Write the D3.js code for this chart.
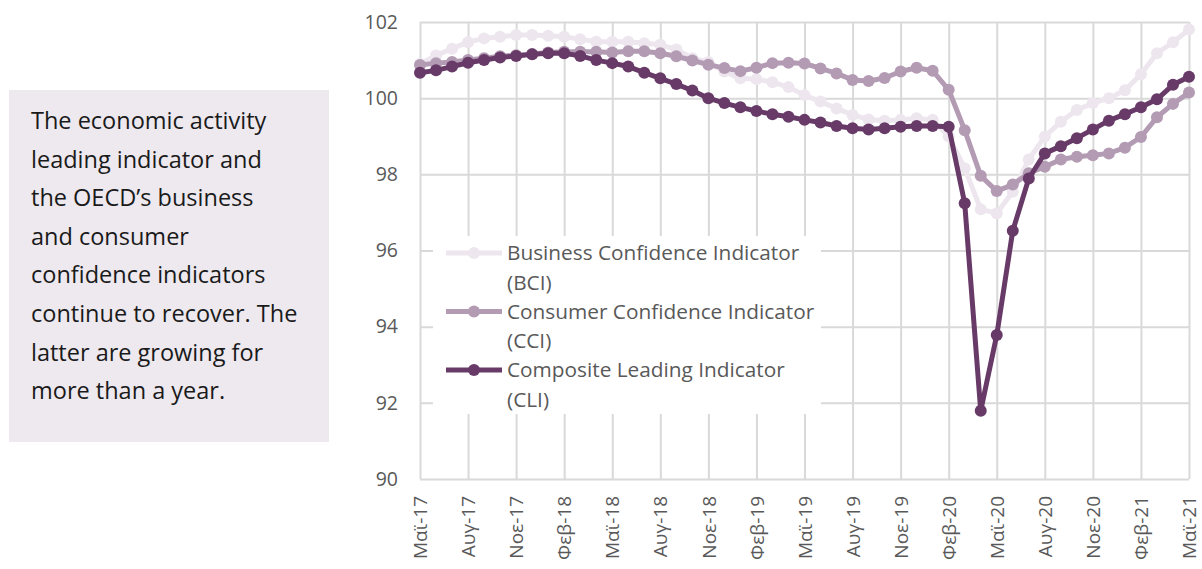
<!DOCTYPE html>
<html>
<head>
<meta charset="utf-8">
<script src="https://cdn.jsdelivr.net/npm/d3@7"></script>
<style>
  body { margin: 0; background: #fff; }
  svg { display: block; }
  .tick text { font-family: "Open Sans", sans-serif; fill: #595959; }
</style>
</head>
<body>
<script>
// monthly values, May-17 .. May-21
var bci = [100.9, 101.12, 101.3, 101.47, 101.57, 101.61, 101.66, 101.66, 101.64, 101.61,
           101.55, 101.48, 101.48, 101.48, 101.44, 101.4, 101.28, 101.05, 100.95, 100.7,
           100.52, 100.5, 100.42, 100.29, 100.08, 99.91, 99.73, 99.56, 99.44, 99.41,
           99.43, 99.47, 99.43, 98.99, 98.16, 97.08, 96.98, 97.54, 98.39, 98.99,
           99.38, 99.69, 99.87, 100.0, 100.21, 100.63, 101.18, 101.47, 101.8];
var cci = [100.87, 100.92, 100.95, 101.0, 101.05, 101.1, 101.13, 101.16, 101.2, 101.22,
           101.22, 101.22, 101.2, 101.23, 101.23, 101.18, 101.1, 100.99, 100.88, 100.79,
           100.71, 100.8, 100.92, 100.93, 100.91, 100.78, 100.65, 100.48, 100.45, 100.53,
           100.7, 100.8, 100.72, 100.22, 99.16, 97.96, 97.56, 97.73, 98.03, 98.2,
           98.39, 98.46, 98.5, 98.55, 98.7, 98.98, 99.5, 99.85, 100.15];
var cli = [100.67, 100.73, 100.83, 100.93, 101.0, 101.07, 101.11, 101.15, 101.18, 101.18,
           101.11, 101.0, 100.92, 100.83, 100.67, 100.52, 100.37, 100.2, 100.0, 99.87,
           99.76, 99.66, 99.58, 99.51, 99.43, 99.36, 99.27, 99.21, 99.18, 99.21,
           99.25, 99.27, 99.27, 99.25, 97.24, 91.79, 93.78, 96.52, 97.89, 98.55,
           98.74, 98.95, 99.18, 99.41, 99.58, 99.76, 99.97, 100.35, 100.56];

var tickLabels = ["Μαϊ-17", "Αυγ-17", "Νοε-17", "Φεβ-18", "Μαϊ-18", "Αυγ-18", "Νοε-18",
                  "Φεβ-19", "Μαϊ-19", "Αυγ-19", "Νοε-19", "Φεβ-20", "Μαϊ-20", "Αυγ-20",
                  "Νοε-20", "Φεβ-21", "Μαϊ-21"];
var yTicks = [90, 92, 94, 96, 98, 100, 102];

var seriesNames = [["Business Confidence Indicator", "(BCI)"],
                   ["Consumer Confidence Indicator", "(CCI)"],
                   ["Composite Leading Indicator", "(CLI)"]];
var colors = ["#ede6ee", "#b39bb4", "#673a67"];

var noteLines = ["The economic activity", "leading indicator and", "the OECD\u2019s business",
                 "and consumer", "confidence indicators", "continue to recover. The",
                 "latter are growing for", "more than a year."];

var svg = d3.select("body").append("svg")
    .attr("width", 1202)
    .attr("height", 569);

// side note box
svg.append("rect")
    .attr("x", 9).attr("y", 90)
    .attr("width", 320).attr("height", 352)
    .attr("fill", "#ede9ef");

svg.selectAll(".note").data(noteLines).enter().append("text")
    .attr("class", "note")
    .attr("x", 31)
    .attr("y", function(d, i) { return 129 + i * 38.6; })
    .attr("font-family", "'Open Sans', sans-serif")
    .attr("font-size", 23.5)
    .attr("fill", "#1a1a1a")
    .text(function(d) { return d; });

var x = d3.scaleLinear().domain([0, 48]).range([420, 1189]);
var y = d3.scaleLinear().domain([90, 102]).range([479, 22]);

// horizontal grid + y labels
var yAxis = svg.append("g")
    .attr("transform", "translate(420,0)")
    .call(d3.axisLeft(y).tickValues(yTicks).tickSize(-769).tickPadding(22).tickFormat(d3.format("d")));
yAxis.select(".domain").remove();
yAxis.selectAll("line").attr("stroke", "#d9d9d9").attr("stroke-width", 2);
yAxis.selectAll("text").attr("font-size", 19.5);

// vertical grid + month labels
var xAxis = svg.append("g")
    .attr("transform", "translate(0,479)")
    .call(d3.axisBottom(x).tickValues(d3.range(0, 49, 3)).tickSize(-457)
        .tickFormat(function(d) { return tickLabels[d / 3]; }));
xAxis.select(".domain").remove();
xAxis.selectAll("line").attr("stroke", "#d9d9d9").attr("stroke-width", 2);
xAxis.selectAll("text")
    .attr("font-size", 19)
    .attr("transform", "rotate(-90)")
    .attr("text-anchor", "end")
    .attr("x", -17)
    .attr("y", 0)
    .attr("dy", "0.35em");

var line = d3.line()
    .x(function(d, i) { return x(i); })
    .y(function(d) { return y(d); });

[bci, cci, cli].forEach(function(s, k) {
    svg.append("path")
        .attr("d", line(s))
        .attr("fill", "none")
        .attr("stroke", colors[k])
        .attr("stroke-width", 5)
        .attr("stroke-linejoin", "round");
    svg.selectAll(".dot" + k).data(s).enter().append("circle")
        .attr("cx", function(d, i) { return x(i); })
        .attr("cy", function(d) { return y(d); })
        .attr("r", 6)
        .attr("fill", colors[k]);
});

// legend
var legend = svg.append("g");
legend.append("rect")
    .attr("x", 433).attr("y", 236)
    .attr("width", 388).attr("height", 178)
    .attr("fill", "#fff");

seriesNames.forEach(function(nm, k) {
    var ly = 253 + k * 58.5;
    legend.append("line")
        .attr("x1", 446).attr("x2", 502)
        .attr("y1", ly).attr("y2", ly)
        .attr("stroke", colors[k]).attr("stroke-width", 5);
    legend.append("circle")
        .attr("cx", 474).attr("cy", ly).attr("r", 6)
        .attr("fill", colors[k]);
    nm.forEach(function(t, j) {
        legend.append("text")
            .attr("x", 507)
            .attr("y", ly + j * 29.5)
            .attr("dy", "0.35em")
            .attr("font-family", "'Open Sans', sans-serif")
            .attr("font-size", 20.8)
            .attr("fill", "#595959")
            .text(t);
    });
});
</script>
</body>
</html>
